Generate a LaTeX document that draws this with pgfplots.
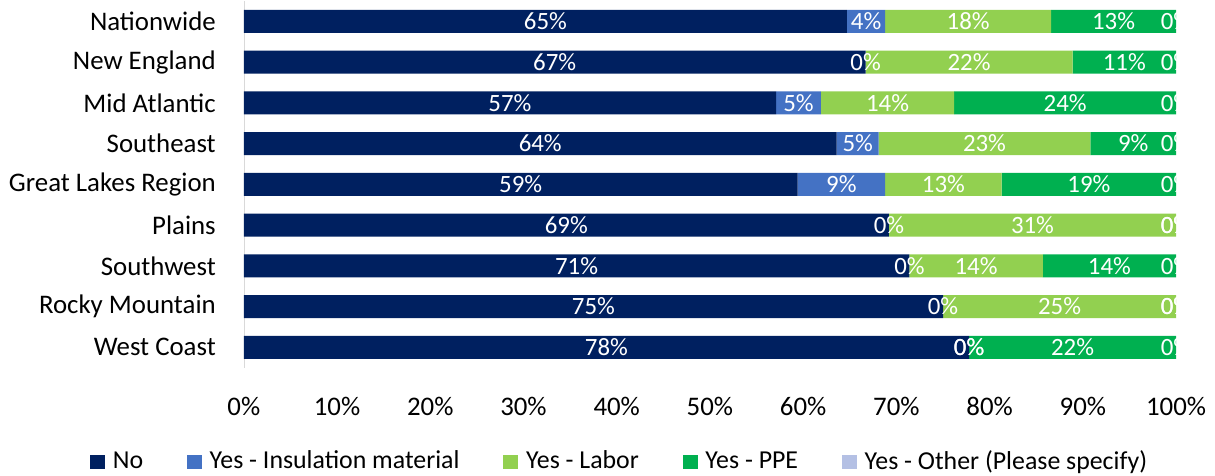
\documentclass[border=0pt]{standalone}
\usepackage{fontspec}
\setmainfont{Carlito}
\usepackage{pgfplots}
\usepackage{pgfplotstable}
\pgfplotsset{compat=1.18}
\definecolor{cNo}{HTML}{002060}
\definecolor{cIns}{HTML}{4472C4}
\definecolor{cLab}{HTML}{92D050}
\definecolor{cPPE}{HTML}{00B050}
\definecolor{cOth}{HTML}{B4C0E4}
\newcommand\chartfont{\fontsize{27bp}{32bp}\selectfont}
\newcommand\labelfont{\fontsize{25bp}{30bp}\selectfont}
\newcommand\legendfont{\fontsize{26bp}{31bp}\selectfont}

% share of answers (%), one row per region
\pgfplotstableread{
cat no   ins lab  ppe  oth
0   64.7 4.1 17.8 13.4 0
1   66.7 0   22.2 11.1 0
2   57.1 4.8 14.3 23.8 0
3   63.6 4.5 22.7 9.2  0
4   59.4 9.4 12.5 18.7 0
5   69.2 0   30.8 0    0
6   71.4 0   14.3 14.3 0
7   75.0 0   25.0 0    0
8   77.8 0   0    22.2 0
}\data
% label positions: middle of each segment
\pgfplotstablecreatecol[create col/expr={\thisrow{no}/2}]{mno}\data
\pgfplotstablecreatecol[create col/expr={\thisrow{no}+\thisrow{ins}/2}]{mins}\data
\pgfplotstablecreatecol[create col/expr={\thisrow{no}+\thisrow{ins}+\thisrow{lab}/2}]{mlab}\data
\pgfplotstablecreatecol[create col/expr={\thisrow{no}+\thisrow{ins}+\thisrow{lab}+\thisrow{ppe}/2}]{mppe}\data
\pgfplotstablecreatecol[create col/expr={\thisrow{no}+\thisrow{ins}+\thisrow{lab}+\thisrow{ppe}+\thisrow{oth}/2}]{moth}\data

\pgfplotsset{
  frame/.style={
    scale only axis,
    width=938bp, height=369bp,
    xmin=0, xmax=100,
    ymin=-0.5, ymax=8.5,
    y dir=reverse,
    /pgf/number format/assume math mode=true,
  },
  seglabel/.style={
    draw=none, mark=none,
    point meta=explicit,
    nodes near coords={\pgfmathprintnumber[fixed,precision=0]{\pgfplotspointmeta}\%},
    every node near coord/.append style={font=\labelfont, text=white, anchor=center, inner sep=0pt},
  },
}

\begin{document}
\chartfont
\begin{tikzpicture}
\begin{axis}[
  frame,
  xbar stacked,
  bar width=23bp,
  axis lines=left,
  axis line style={-},
  x axis line style={draw=none},
  y axis line style={draw=black!15},
  major tick length=0pt,
  xtick={0,10,20,30,40,50,60,70,80,90,100},
  xticklabels={0\%,10\%,20\%,30\%,40\%,50\%,60\%,70\%,80\%,90\%,100\%},
  ytick={0,1,2,3,4,5,6,7,8},
  yticklabels={Nationwide,New England,Mid Atlantic,Southeast,Great Lakes Region,Plains,Southwest,Rocky Mountain,West Coast},
  ticklabel style={font=\chartfont, text=black},
  xticklabel style={yshift=-20bp},
  yticklabel style={xshift=-19bp},
  legend columns=5,
  legend style={at={(0.402,-0.257)}, anchor=center, draw=none, font=\legendfont,
    nodes={inner sep=0pt},
    /tikz/every odd column/.append style={column sep=8bp},
    /tikz/every even column/.append style={column sep=44bp}},
  legend image code/.code={\fill[#1] (0bp,-7.5bp) rectangle (15bp,7.5bp);},
]
\addplot[fill=cNo, draw=none] table[x=no, y=cat] {\data};
\addlegendentry{No}
\addplot[fill=cIns, draw=none] table[x=ins, y=cat] {\data};
\addlegendentry{Yes - Insulation material}
\addplot[fill=cLab, draw=none] table[x=lab, y=cat] {\data};
\addlegendentry{Yes - Labor}
\addplot[fill=cPPE, draw=none] table[x=ppe, y=cat] {\data};
\addlegendentry{Yes - PPE}
\addplot[fill=cOth, draw=none] table[x=oth, y=cat] {\data};
\addlegendentry{Yes - Other (Please specify)}
\end{axis}

% data labels, drawn over the bars
\begin{axis}[frame, hide axis, clip marker paths=true]
\addplot[seglabel] table[x=mno,  y=cat, meta=no]  {\data};
\addplot[seglabel] table[x=mins, y=cat, meta=ins] {\data};
\addplot[seglabel] table[x=mlab, y=cat, meta=lab] {\data};
\addplot[seglabel] table[x=mppe, y=cat, meta=ppe] {\data};
\addplot[seglabel] table[x=moth, y=cat, meta=oth] {\data};
\end{axis}
\path (current axis.south west) ++(-239bp,-107bp) rectangle ++(1215bp,477bp);
\end{tikzpicture}
\end{document}
